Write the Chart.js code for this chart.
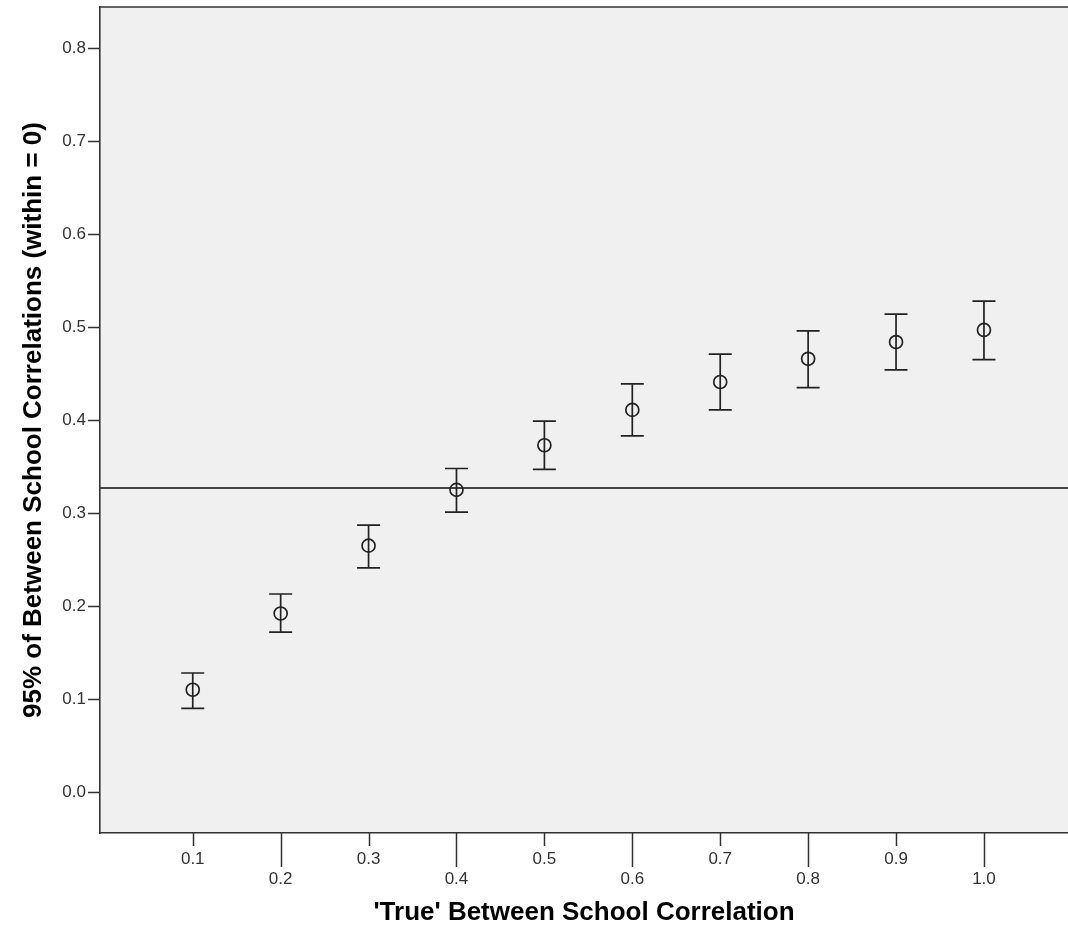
<!DOCTYPE html>
<html>
<head>
<meta charset="utf-8">
<script src="https://cdn.jsdelivr.net/npm/chart.js@4"></script>
<style>
    html, body { margin: 0; padding: 0; overflow: hidden; background: #ffffff; }
    #errorChart { display: block; }
</style>
</head>
<body>
<canvas id="errorChart" width="1068" height="930"></canvas>
<script>
// Chart data
const xCategories = [0.1, 0.2, 0.3, 0.4, 0.5, 0.6, 0.7, 0.8, 0.9, 1.0];
const meanValues = [0.110, 0.192, 0.265, 0.325, 0.373, 0.411, 0.441, 0.466, 0.484, 0.497];
const lowerValues = [0.090, 0.172, 0.241, 0.301, 0.347, 0.383, 0.411, 0.435, 0.454, 0.465];
const upperValues = [0.128, 0.213, 0.287, 0.348, 0.399, 0.439, 0.471, 0.496, 0.514, 0.528];
const yTickValues = [0.0, 0.1, 0.2, 0.3, 0.4, 0.5, 0.6, 0.7, 0.8];
const referenceValue = 0.327;

const FONT = "Arial, 'Liberation Sans', sans-serif";
const INK = '#333333';

// Fixed axis sizes, no extra label padding around the plot
function fixScale(scale, size) {
    if (scale.isHorizontal()) {
        scale.height = size;
    } else {
        scale.width = size;
    }
    scale.paddingLeft = 0;
    scale.paddingRight = 0;
    scale.paddingTop = 0;
    scale.paddingBottom = 0;
}

// Plot background, top border, reference line, error bars and x tick marks
const spssPlugin = {
    id: 'spssPlugin',
    beforeDraw(chart) {
        const a = chart.chartArea;
        const ctx = chart.ctx;
        ctx.save();
        ctx.fillStyle = '#f0f0f0';
        ctx.fillRect(a.left, a.top, a.right - a.left, a.bottom - a.top);
        ctx.restore();
    },
    beforeDatasetsDraw(chart) {
        const a = chart.chartArea;
        const ctx = chart.ctx;
        const x = chart.scales.x;
        const y = chart.scales.y;
        ctx.save();

        // reference line
        const ry = y.getPixelForValue(referenceValue);
        ctx.strokeStyle = '#444444';
        ctx.lineWidth = 2;
        ctx.beginPath();
        ctx.moveTo(a.left, ry);
        ctx.lineTo(a.right, ry);
        ctx.stroke();

        // error bars
        ctx.strokeStyle = '#222222';
        ctx.lineWidth = 1.7;
        xCategories.forEach(function (v, i) {
            const px = x.getPixelForValue(v);
            const top = y.getPixelForValue(upperValues[i]);
            const bot = y.getPixelForValue(lowerValues[i]);
            ctx.beginPath();
            ctx.moveTo(px, top);
            ctx.lineTo(px, bot);
            ctx.moveTo(px - 11.5, top);
            ctx.lineTo(px + 11.5, top);
            ctx.moveTo(px - 11.5, bot);
            ctx.lineTo(px + 11.5, bot);
            ctx.stroke();
        });
        ctx.restore();
    },
    afterDraw(chart) {
        const a = chart.chartArea;
        const ctx = chart.ctx;
        const x = chart.scales.x;
        ctx.save();
        ctx.strokeStyle = INK;
        ctx.lineWidth = 1.6;

        // top border
        ctx.beginPath();
        ctx.moveTo(a.left, a.top);
        ctx.lineTo(a.right, a.top);
        ctx.stroke();

        // staggered x tick marks
        ctx.lineWidth = 1.5;
        xCategories.forEach(function (v, i) {
            const px = Math.round(x.getPixelForValue(v)) + 0.5;
            const len = i % 2 === 0 ? 13 : 34;
            ctx.beginPath();
            ctx.moveTo(px, a.bottom);
            ctx.lineTo(px, a.bottom + len);
            ctx.stroke();
        });
        ctx.restore();
    }
};

function initChart() {
    const ctx = document.getElementById('errorChart');
    new Chart(ctx, {
        type: 'scatter',
        data: {
            datasets: [{
                data: xCategories.map((v, i) => ({ x: v, y: meanValues[i] })),
                pointStyle: 'circle',
                pointRadius: 6.5,
                pointBorderWidth: 1.7,
                pointBorderColor: '#222222',
                pointBackgroundColor: 'rgba(0, 0, 0, 0)'
            }]
        },
        options: {
            responsive: false,
            animation: false,
            devicePixelRatio: 1,
            layout: {
                autoPadding: false,
                padding: { top: 7, right: 0, bottom: 0, left: 0 }
            },
            plugins: {
                legend: { display: false },
                title: { display: false },
                tooltip: { enabled: false }
            },
            scales: {
                x: {
                    type: 'linear',
                    min: -0.0055,
                    max: 1.0956,
                    afterBuildTicks: function (scale) {
                        scale.ticks = xCategories.map(v => ({ value: v }));
                    },
                    afterFit: function (scale) {
                        fixScale(scale, 97);
                    },
                    grid: {
                        display: true,
                        drawOnChartArea: false,
                        drawTicks: false,
                        tickLength: 0
                    },
                    border: { display: true, color: INK, width: 1.6 },
                    ticks: {
                        autoSkip: false,
                        maxRotation: 0,
                        padding: 16,
                        color: INK,
                        font: { family: FONT, size: 17, lineHeight: 1.2 },
                        callback: function (value, index) {
                            const label = Number(value).toFixed(1);
                            return index % 2 === 1 ? ['', label] : label;
                        }
                    },
                    title: {
                        display: true,
                        text: "'True' Between School Correlation",
                        color: '#000000',
                        padding: { top: 0, bottom: 2 },
                        font: { family: FONT, size: 26, weight: 'bold' }
                    }
                },
                y: {
                    type: 'linear',
                    min: -0.0441,
                    max: 0.8444,
                    afterBuildTicks: function (scale) {
                        scale.ticks = yTickValues.map(v => ({ value: v }));
                    },
                    afterFit: function (scale) {
                        fixScale(scale, 100);
                    },
                    grid: {
                        display: true,
                        drawOnChartArea: false,
                        drawTicks: true,
                        tickLength: 12,
                        tickWidth: 1.5,
                        color: INK
                    },
                    border: { display: true, color: INK, width: 1.6 },
                    ticks: {
                        padding: 2,
                        color: INK,
                        font: { family: FONT, size: 17 },
                        callback: function (value) {
                            return Number(value).toFixed(1);
                        }
                    },
                    title: {
                        display: true,
                        text: '95% of Between School Correlations (within = 0)',
                        color: '#000000',
                        padding: { top: 18, bottom: 0 },
                        font: { family: FONT, size: 26, weight: 'bold' }
                    }
                }
            }
        },
        plugins: [spssPlugin]
    });
}

document.addEventListener('DOMContentLoaded', initChart);
</script>
</body>
</html>
